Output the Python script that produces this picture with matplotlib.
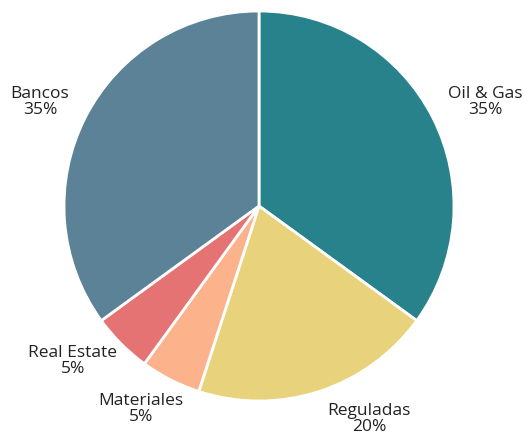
import matplotlib.pyplot as plt

plt.rcParams['font.family'] = ['Open Sans', 'DejaVu Sans']

sectors = ["Oil & Gas", "Reguladas", "Materiales", "Real Estate", "Bancos"]
shares = [35, 20, 5, 5, 35]
colors = ["#27828b", "#e9d27c", "#fcb28a", "#e57373", "#5b8296"]

# label centres in pixel coords (x, y from top)
label_pos = [(485, 102), (369, 419), (141, 409), (73, 361), (40, 102)]

fig = plt.figure(figsize=(5.26, 4.37), dpi=100)
ax = fig.add_axes([0, 0, 1, 1])
ax.set_xlim(0, 526)
ax.set_ylim(0, 437)
ax.set_aspect("equal")
ax.axis("off")

ax.pie(shares, colors=colors, startangle=90, counterclock=False,
       center=(259, 437 - 206), radius=195,
       wedgeprops=dict(edgecolor="white", linewidth=2))

for name, val, (x, y) in zip(sectors, shares, label_pos):
    ax.text(x, 437 - y, f"{name}\n{val}%", ha="center", va="center",
            fontsize=12.5, color="#222222", linespacing=1.0)

ax.set_xlim(0, 526)
ax.set_ylim(0, 437)
fig.savefig("out.png", dpi=100)
